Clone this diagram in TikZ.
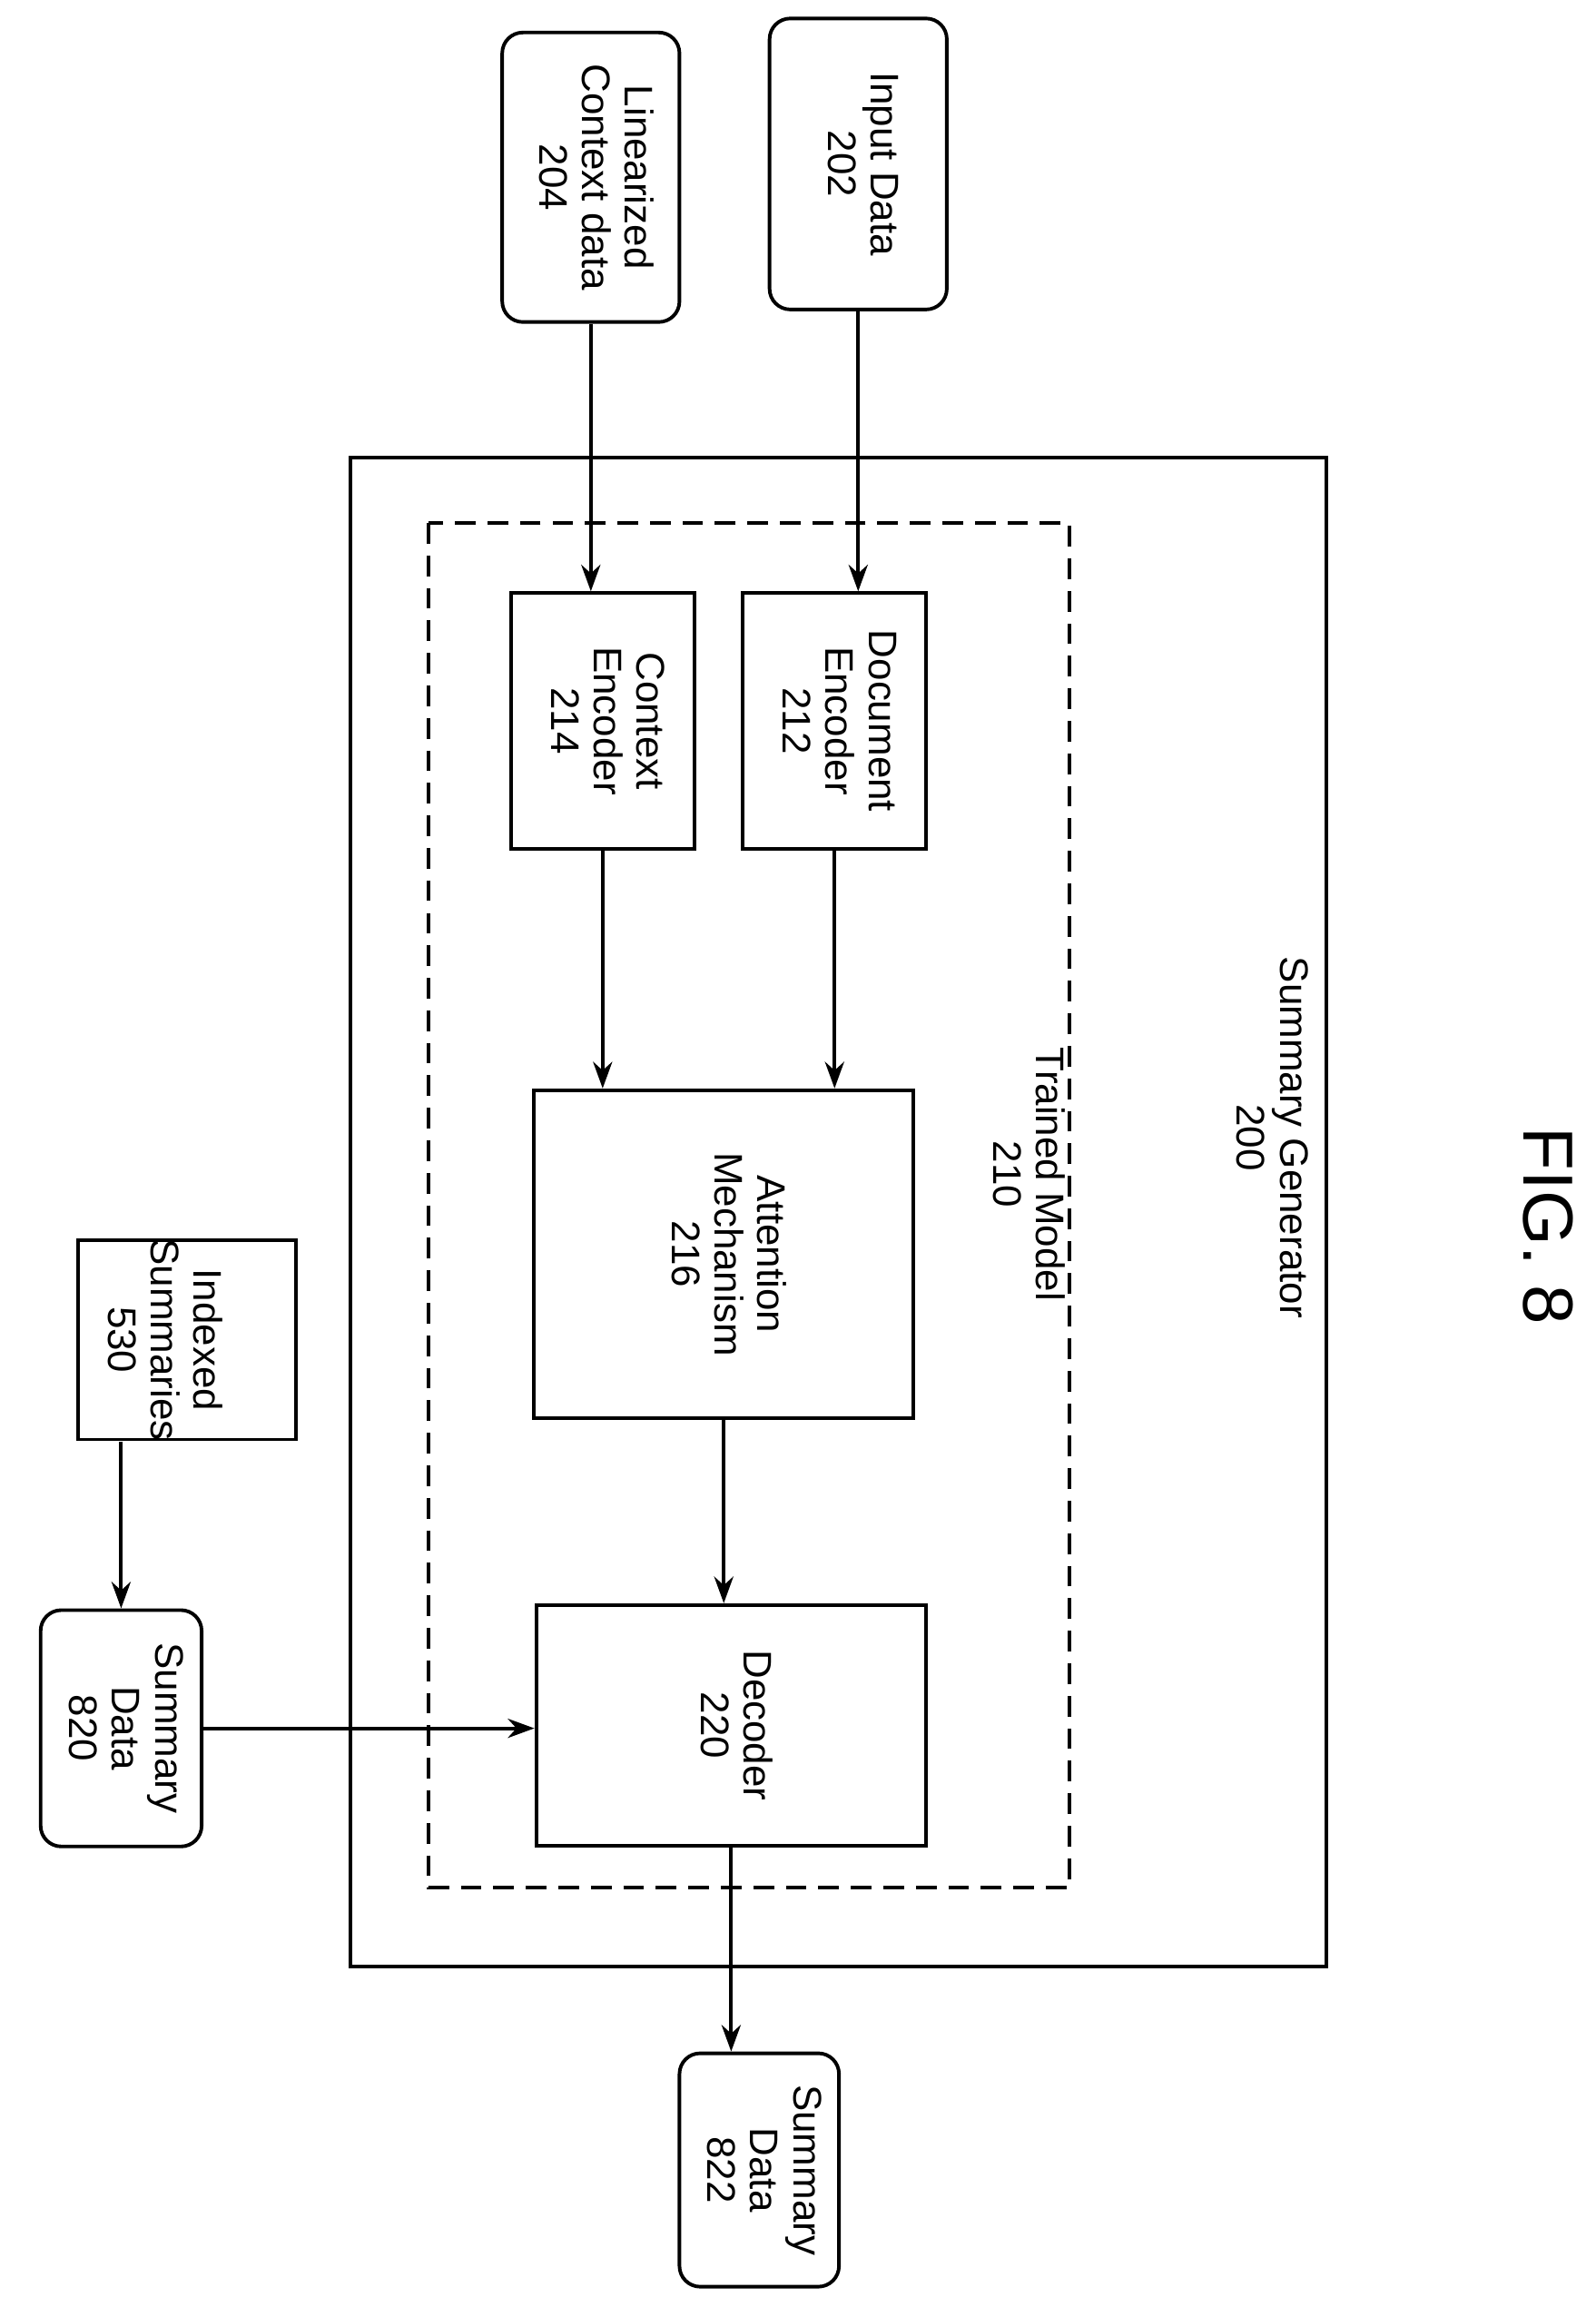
\documentclass[tikz,border=0pt]{standalone}
\usepackage{fontspec}
\setmainfont{Liberation Sans}
\usetikzlibrary{arrows.meta,shapes.geometric}
\tikzset{
  box/.style={draw,line width=2.4pt,inner sep=0pt,align=center,font=\fontsize{27}{29}\selectfont},
  term/.style={box,rounded corners=14pt},
  arr/.style={line width=2.4pt,-{Stealth[length=18pt,width=13pt]}}
}
\newcommand{\rtext}[1]{\rotatebox{-90}{\begin{tabular}{@{}c@{}}#1\end{tabular}}}
\begin{document}
\begin{tikzpicture}[x=1pt,y=-1pt]
\useasboundingbox (0,0) rectangle (1080,1555);

% outer generator and trained model
\draw[line width=2.4pt] (237,310) rectangle (898,1331);
\node (gen) at (858,770) {\fontsize{27}{29}\selectfont\rtext{Summary Generator\\200}};
\draw[line width=2.4pt,dash pattern={on 14pt off 8pt}] (290,354) rectangle (724,1278);
\node (tm) at (693,795) {\fontsize{27}{29}\selectfont\rtext{Trained Model\\210}};

% inputs
\node[term,minimum width=120pt,minimum height=197pt] (inp) at (581,111) {\rtext{Input Data\\202}};
\node[term,minimum width=120pt,minimum height=196pt] (lin) at (400,120) {\rtext{Linearized\\Context data\\204}};

% encoders, attention, decoder
\node[box,minimum width=124pt,minimum height=173pt] (doc) at (565,488) {\rtext{Document\\Encoder\\212}};
\node[box,minimum width=124pt,minimum height=173pt] (ctx) at (408,488) {\rtext{Context\\Encoder\\214}};
\node[box,minimum width=257pt,minimum height=222pt] (att) at (490,849) {\rtext{Attention\\Mechanism\\216}};
\node[box,minimum width=264pt,minimum height=163pt] (dec) at (495,1168) {\rtext{Decoder\\220}};

% store and summary data
\node[box,cylinder,aspect=0.15,minimum width=135pt,minimum height=148pt] (idx) at (126,907) {};
\node[font=\fontsize{27}{29}\selectfont] (idxt) at (108,907) {\rtext{Indexed\\Summaries\\530}};
\node[term,minimum width=109pt,minimum height=160pt] (sd820) at (82,1170) {\rtext{Summary\\Data\\820}};
\node[term,minimum width=108pt,minimum height=158pt] (sd822) at (514,1469) {\rtext{Summary\\Data\\822}};

\node (fig) at (1048,830) {\fontsize{48}{50}\selectfont\rotatebox{-90}{FIG. 8}};

\draw[arr] (inp.south) -- (inp.south |- doc.north);
\draw[arr] (lin.south) -- (lin.south |- ctx.north);
\draw[arr] (doc.south) -- (doc.south |- att.north);
\draw[arr] (ctx.south) -- (ctx.south |- att.north);
\draw[arr] (att.south) -- (att.south |- dec.north);
\draw[arr] (sd820.north |- idx.south) -- (sd820.north);
\draw[arr] (sd820.east) -- (sd820.east -| dec.west);
\draw[arr] (dec.south) -- (dec.south |- sd822.north);
\end{tikzpicture}
\end{document}
